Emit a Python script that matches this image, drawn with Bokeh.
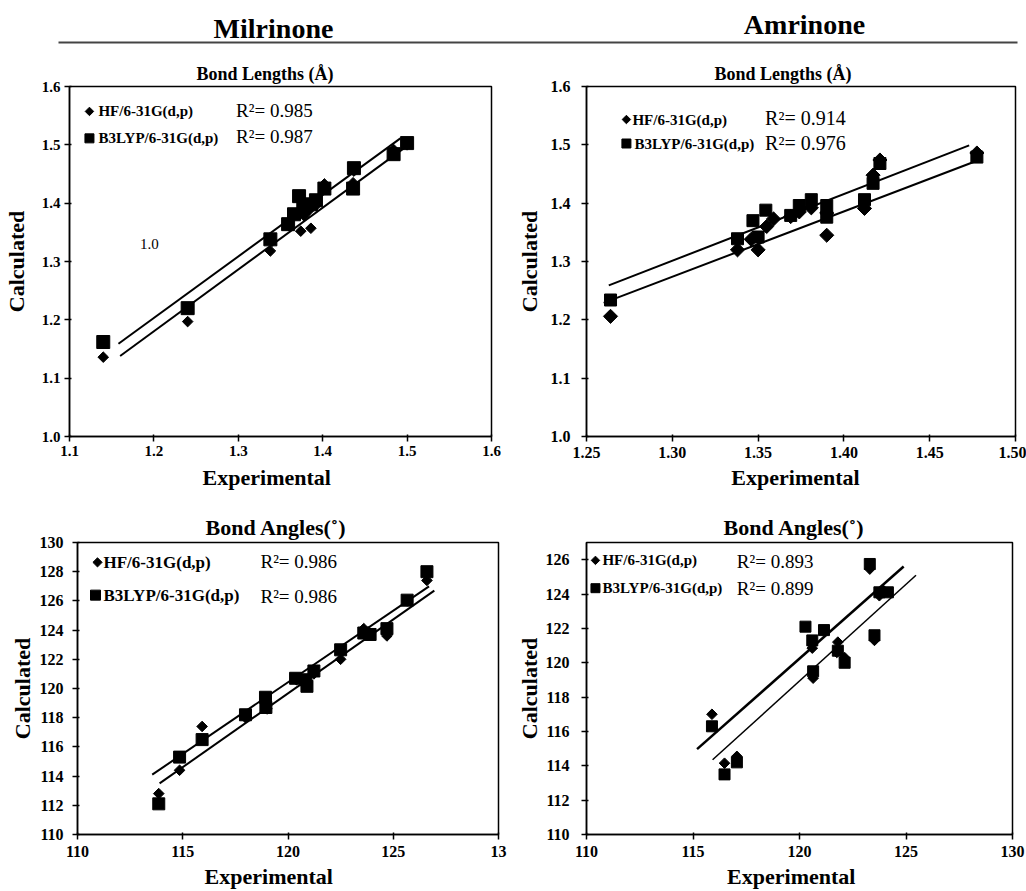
import numpy as np
from bokeh.plotting import figure
from bokeh.layouts import column, row
from bokeh.models import Range1d, FixedTicker, Label, PrintfTickFormatter
from bokeh.embed import file_html
from bokeh.resources import INLINE

FONT = "Liberation Serif"

# ---------------- data ----------------
compounds = ["Milrinone", "Amrinone"]
methods = ["HF/6-31G(d,p)", "B3LYP/6-31G(d,p)"]
x_title = "Experimental"
y_title = "Calculated"
stray_label = "1.0"

# Milrinone bond lengths (Å)
mil_bl_hf_exp = [1.140, 1.240, 1.338, 1.340, 1.360, 1.374, 1.386, 1.378, 1.384, 1.392, 1.402, 1.436, 1.437, 1.484, 1.500]
mil_bl_hf_calc = [1.136, 1.197, 1.318, 1.335, 1.362, 1.352, 1.357, 1.378, 1.388, 1.396, 1.433, 1.435, 1.455, 1.492, 1.500]
mil_bl_b3_exp = [1.140, 1.240, 1.338, 1.359, 1.372, 1.366, 1.377, 1.386, 1.392, 1.402, 1.436, 1.437, 1.484, 1.500]
mil_bl_b3_calc = [1.162, 1.220, 1.338, 1.364, 1.412, 1.381, 1.391, 1.398, 1.405, 1.425, 1.425, 1.460, 1.484, 1.503]
mil_bl_fit_hf_x = [1.160, 1.496]
mil_bl_fit_hf_y = [1.138, 1.494]
mil_bl_fit_b3_x = [1.158, 1.492]
mil_bl_fit_b3_y = [1.159, 1.511]
mil_bl_r2 = [0.985, 0.987]

# Amrinone bond lengths (Å)
amr_bl_hf_exp = [1.264, 1.338, 1.346, 1.350, 1.355, 1.359, 1.369, 1.374, 1.381, 1.390, 1.390, 1.412, 1.417, 1.421, 1.4775]
amr_bl_hf_calc = [1.206, 1.320, 1.338, 1.320, 1.360, 1.373, 1.377, 1.385, 1.392, 1.345, 1.383, 1.391, 1.448, 1.474, 1.486]
amr_bl_b3_exp = [1.264, 1.338, 1.347, 1.350, 1.3545, 1.369, 1.374, 1.381, 1.390, 1.390, 1.412, 1.417, 1.421, 1.4775]
amr_bl_b3_calc = [1.234, 1.339, 1.370, 1.342, 1.388, 1.379, 1.396, 1.406, 1.396, 1.376, 1.406, 1.434, 1.468, 1.479]
amr_bl_fit_hf_x = [1.260, 1.4756]
amr_bl_fit_hf_y = [1.229, 1.4705]
amr_bl_fit_b3_x = [1.263, 1.473]
amr_bl_fit_b3_y = [1.259, 1.499]
amr_bl_r2 = [0.914, 0.976]

# Milrinone bond angles (deg)
mil_ba_hf_exp = [113.86, 114.85, 115.92, 117.98, 118.93, 119.0, 120.4, 120.9, 121.23, 122.5, 123.6, 124.7, 125.66, 126.6]
mil_ba_hf_calc = [112.8, 114.4, 117.4, 118.0, 119.0, 118.6, 120.6, 120.4, 121.0, 122.0, 124.1, 123.6, 126.0, 127.4]
mil_ba_b3_exp = [113.86, 114.85, 115.92, 117.98, 118.93, 118.95, 120.36, 120.9, 120.85, 121.23, 122.5, 123.6, 123.9, 124.7, 125.66, 126.6]
mil_ba_b3_calc = [112.1, 115.3, 116.5, 118.2, 119.4, 118.7, 120.7, 120.15, 120.6, 121.2, 122.65, 123.8, 123.7, 124.1, 126.05, 128.0]
mil_ba_fit_hf_x = [113.9, 126.95]
mil_ba_fit_hf_y = [113.5, 126.7]
mil_ba_fit_b3_x = [113.55, 126.7]
mil_ba_fit_b3_y = [114.1, 127.0]
mil_ba_r2 = [0.986, 0.986]

# Amrinone bond angles (deg)
amr_ba_hf_exp = [115.89, 116.48, 117.06, 120.6, 120.64, 121.8, 121.75, 122.12, 123.52, 123.3, 123.75, 123.95]
amr_ba_hf_calc = [117.0, 114.15, 114.55, 120.85, 119.1, 121.2, 120.6, 120.3, 121.3, 125.45, 123.9, 124.2]
amr_ba_b3_exp = [115.89, 116.48, 117.06, 120.28, 120.6, 121.15, 120.64, 121.8, 122.12, 123.52, 123.3, 123.75, 124.15]
amr_ba_b3_calc = [116.3, 113.5, 114.2, 122.1, 121.3, 121.9, 119.5, 120.7, 120.0, 121.6, 125.75, 124.1, 124.1]
amr_ba_fit_hf_x = [115.92, 125.47]
amr_ba_fit_hf_y = [114.35, 125.09]
amr_ba_fit_b3_x = [115.19, 124.89]
amr_ba_fit_b3_y = [114.97, 125.6]
amr_ba_r2 = [0.893, 0.899]

# axis ticks
bl_y_ticks = [1.0, 1.1, 1.2, 1.3, 1.4, 1.5, 1.6]
mil_bl_x_ticks = [1.1, 1.2, 1.3, 1.4, 1.5, 1.6]
amr_bl_x_ticks = [1.25, 1.30, 1.35, 1.40, 1.45, 1.50]
ba_x_ticks = [110, 115, 120, 125, 130]
mil_ba_y_ticks = [110, 112, 114, 116, 118, 120, 122, 124, 126, 128, 130]
amr_ba_y_ticks = [110, 112, 114, 116, 118, 120, 122, 124, 126]


def make_panel(cfg):
    W, H = cfg["size"]
    l, r, t, b = cfg["borders"]
    xr, yr = cfg["xr"], cfg["yr"]
    fw, fh = W - l - r, H - t - b
    p = figure(width=W, height=H, x_range=Range1d(*xr), y_range=Range1d(*yr),
               output_backend="svg", toolbar_location=None,
               min_border_left=l, min_border_right=r, min_border_top=t, min_border_bottom=b,
               background_fill_color="white", border_fill_color="white")
    p.grid.visible = False
    p.outline_line_color = "black"
    p.outline_line_width = 1.5

    p.title.text = cfg["title"]
    p.title.align = "left"
    p.title.offset = cfg["title_offset"]
    p.title.text_font = FONT
    p.title.text_font_size = cfg["title_size"]
    p.title.text_font_style = "bold"
    p.title.text_color = "black"
    p.title.standoff = cfg.get("title_standoff", 6)

    for ax in (p.xaxis[0], p.yaxis[0]):
        ax.axis_line_color = "black"
        ax.axis_line_width = 1.5
        ax.major_tick_line_color = "black"
        ax.major_tick_line_width = 1.5
        ax.major_tick_out = 5
        ax.major_tick_in = 2
        ax.minor_tick_line_color = None
        ax.major_label_text_font = FONT
        ax.major_label_text_font_style = "bold"
        ax.major_label_text_font_size = cfg["tick_size"]
        ax.major_label_text_color = "black"
        ax.axis_label_text_font = FONT
        ax.axis_label_text_font_style = "bold"
        ax.axis_label_text_font_size = "22px"
        ax.axis_label_text_color = "black"

    # the source's x title sits a little left of the frame centre: pad it on the right
    p.xaxis.axis_label = x_title + "\u00a0" * cfg["xlabel_pad"]
    p.yaxis.axis_label = y_title
    p.xaxis.ticker = FixedTicker(ticks=cfg["xticks"])
    p.yaxis.ticker = FixedTicker(ticks=cfg["yticks"])
    p.xaxis.formatter = PrintfTickFormatter(format=cfg["xfmt"])
    p.yaxis.formatter = PrintfTickFormatter(format=cfg["yfmt"])
    if "xover" in cfg:
        p.xaxis.major_label_overrides = cfg["xover"]
    p.xaxis.major_label_standoff = cfg["x_std"]
    p.yaxis.major_label_standoff = cfg["y_std"]
    p.xaxis.axis_label_standoff = cfg["xl_std"]
    p.yaxis.axis_label_standoff = cfg["yl_std"]

    def at(dx, dy):
        return (xr[0] + dx / fw * (xr[1] - xr[0]), yr[1] - dy / fh * (yr[1] - yr[0]))

    # fit lines
    p.line(cfg["fit_hf"][0], cfg["fit_hf"][1], line_color="black", line_width=cfg.get("lw_hf", 2))
    p.line(cfg["fit_b3"][0], cfg["fit_b3"][1], line_color="black", line_width=cfg.get("lw_b3", 2))

    # data
    p.scatter(cfg["b3"][0], cfg["b3"][1], marker="square", size=cfg["sq"], color="black")
    p.scatter(cfg["hf"][0], cfg["hf"][1], marker="square", angle=np.pi / 4, size=cfg["dm"], color="black")

    # legend block
    lg = cfg["legend"]
    (dx1, dy1), (dx2, dy2) = lg["marks"]
    x1, y1 = at(dx1, dy1)
    x2, y2 = at(dx2, dy2)
    p.scatter([x1], [y1], marker="square", angle=np.pi / 4, size=lg["dm"], color="black")
    p.scatter([x2], [y2], marker="square", size=lg["sq"], color="black")
    for i, (tx, ty) in enumerate(lg["texts"]):
        x, y = at(tx, ty)
        p.add_layout(Label(x=x, y=y, text=methods[i], text_font=FONT, text_font_size=lg["size"],
                           text_font_style="bold", text_baseline="middle", text_align="left",
                           text_color="black"))
    for i, (tx, ty) in enumerate(lg["r2pos"]):
        x, y = at(tx, ty)
        p.add_layout(Label(x=x, y=y, text="R\u00b2= %.3f" % cfg["r2"][i], text_font=FONT,
                           text_font_size=lg["r2size"], text_baseline="middle", text_align="left",
                           text_color="black"))
    if "stray" in cfg:
        x, y = at(*cfg["stray"])
        p.add_layout(Label(x=x, y=y, text=stray_label, text_font=FONT, text_font_size="15px",
                           text_baseline="middle", text_align="center", text_color="black"))
    return p


p1 = make_panel(dict(
    size=(513, 446), borders=(68, 22, 39, 56), xr=(1.1, 1.6), yr=(1.0, 1.6),
    xticks=mil_bl_x_ticks, yticks=bl_y_ticks, xfmt="%.1f", yfmt="%.1f",
    title="Bond Lengths (\u00c5)", title_size="18px", title_offset=127,
    tick_size="15px", x_std=4, y_std=4, xl_std=6, yl_std=10, xlabel_pad=5,
    hf=(mil_bl_hf_exp, mil_bl_hf_calc), b3=(mil_bl_b3_exp, mil_bl_b3_calc),
    fit_hf=(mil_bl_fit_hf_x, mil_bl_fit_hf_y), fit_b3=(mil_bl_fit_b3_x, mil_bl_fit_b3_y),
    sq=13, dm=7.5, r2=mil_bl_r2,
    legend=dict(marks=[(20, 25), (20, 52)], texts=[(29, 25), (29, 52)], r2pos=[(167, 24), (167, 50)],
                size="15px", r2size="19px", dm=6, sq=9),
    stray=(80, 158),
))

p2 = make_panel(dict(
    size=(513, 446), borders=(72, 11, 40, 56), xr=(1.25, 1.50), yr=(1.0, 1.6),
    xticks=amr_bl_x_ticks, yticks=bl_y_ticks, xfmt="%.2f", yfmt="%.1f",
    title="Bond Lengths (\u00c5)", title_size="18px", title_offset=128,
    tick_size="16px", x_std=5, y_std=11, xl_std=4, yl_std=6, xlabel_pad=2,
    hf=(amr_bl_hf_exp, amr_bl_hf_calc), b3=(amr_bl_b3_exp, amr_bl_b3_calc),
    fit_hf=(amr_bl_fit_hf_x, amr_bl_fit_hf_y), fit_b3=(amr_bl_fit_b3_x, amr_bl_fit_b3_y),
    sq=12, dm=10, r2=amr_bl_r2,
    legend=dict(marks=[(40, 33), (40, 57)], texts=[(46, 33), (48, 57)], r2pos=[(179, 31), (179, 56)],
                size="15px", r2size="20px", dm=6, sq=9),
))

p3 = make_panel(dict(
    size=(513, 399), borders=(77, 15, 50, 55), xr=(110, 130), yr=(110, 130),
    xticks=ba_x_ticks, yticks=mil_ba_y_ticks, xfmt="%d", yfmt="%d", xover={130: "13"},
    title="Bond Angles(\u02da)", title_size="22px", title_offset=128,
    tick_size="16px", x_std=6, y_std=9, xl_std=4, yl_std=2, xlabel_pad=7,
    hf=(mil_ba_hf_exp, mil_ba_hf_calc), b3=(mil_ba_b3_exp, mil_ba_b3_calc),
    fit_hf=(mil_ba_fit_hf_x, mil_ba_fit_hf_y), fit_b3=(mil_ba_fit_b3_x, mil_ba_fit_b3_y),
    sq=12, dm=7.5, r2=mil_ba_r2,
    legend=dict(marks=[(20, 20), (18, 53)], texts=[(26, 20), (26, 53)], r2pos=[(183, 19), (183, 54)],
                size="17px", r2size="19px", dm=6.5, sq=10),
))

p4 = make_panel(dict(
    size=(513, 399), borders=(71, 14, 50, 55), xr=(110, 130), yr=(110, 127),
    xticks=ba_x_ticks, yticks=amr_ba_y_ticks, xfmt="%d", yfmt="%d",
    title="Bond Angles(\u02da)", title_size="22px", title_offset=137,
    tick_size="16px", x_std=6, y_std=12, xl_std=4, yl_std=1, xlabel_pad=3,
    hf=(amr_ba_hf_exp, amr_ba_hf_calc), b3=(amr_ba_b3_exp, amr_ba_b3_calc),
    fit_hf=(amr_ba_fit_hf_x, amr_ba_fit_hf_y), fit_b3=(amr_ba_fit_b3_x, amr_ba_fit_b3_y),
    sq=11, dm=7.5, r2=amr_ba_r2, lw_hf=1.5, lw_b3=2.5,
    legend=dict(marks=[(9, 18), (9, 46)], texts=[(16, 18), (16, 46)], r2pos=[(151, 19), (151, 46)],
                size="15px", r2size="19px", dm=6, sq=9),
))

# header
hdr = figure(width=1026, height=46, x_range=Range1d(0, 1026), y_range=Range1d(46, 0),
             x_axis_location=None, y_axis_location=None, output_backend="svg",
             toolbar_location=None, min_border=0, outline_line_color=None)
hdr.grid.visible = False
hdr.segment(x0=[58], y0=[42], x1=[1017], y1=[42], line_color="#444444", line_width=2)
for name, cx, cy in zip(compounds, [273, 804], [28, 24]):
    hdr.add_layout(Label(x=cx, y=cy, text=name, text_font=FONT, text_font_size="28px",
                         text_font_style="bold", text_align="center", text_baseline="middle",
                         text_color="black"))

layout = column(hdr, row(p1, p2), row(p3, p4))
open("out.html", "w").write(file_html(layout, INLINE))
